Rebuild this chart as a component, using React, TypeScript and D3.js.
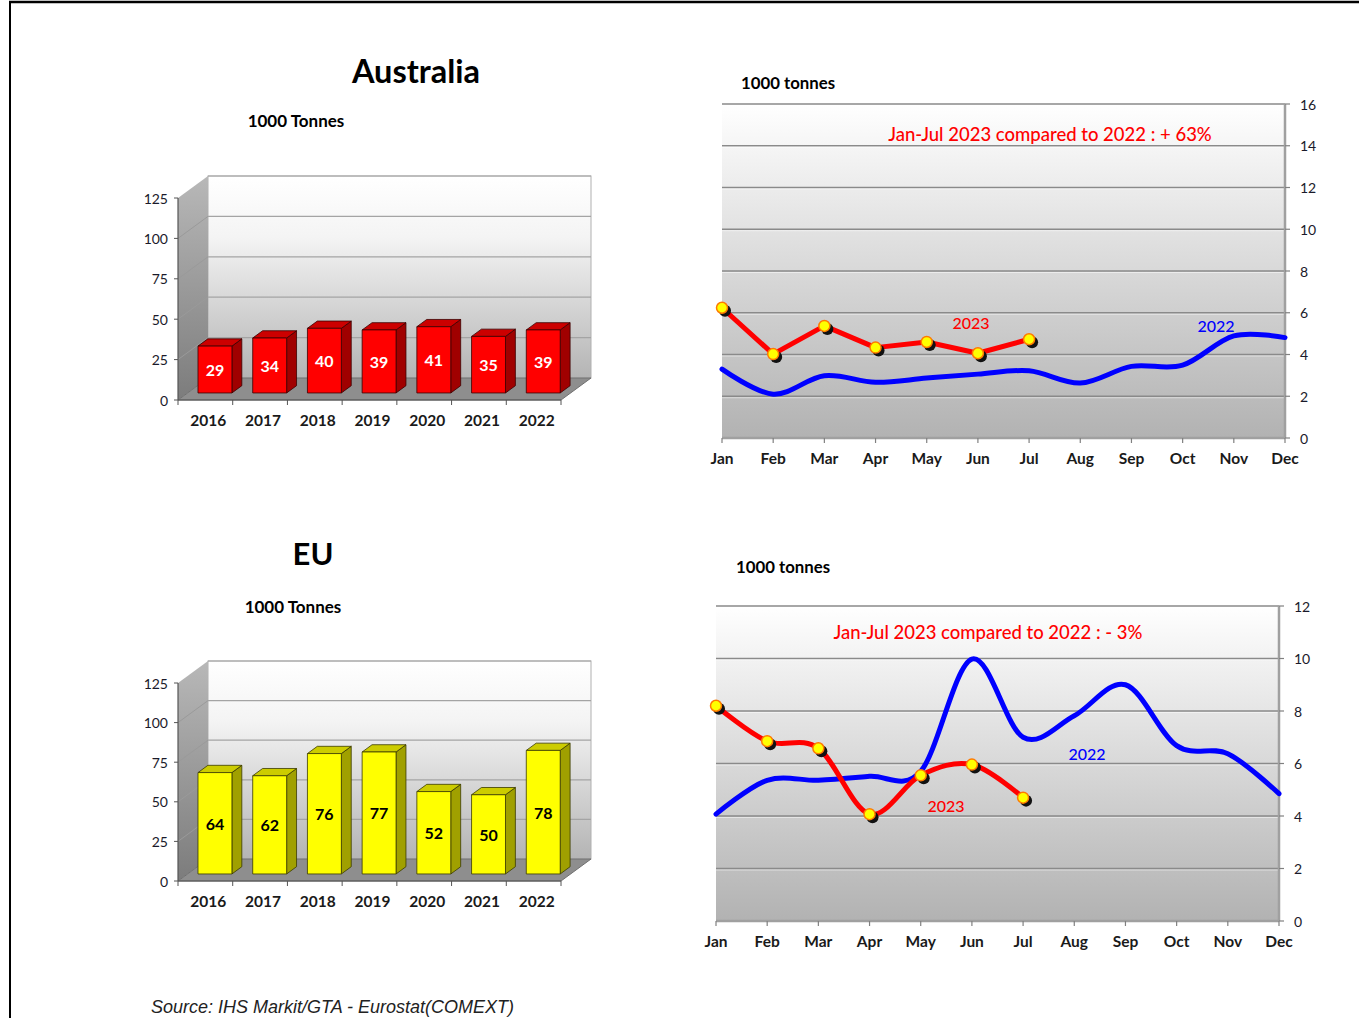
import React from 'react';
import * as d3 from 'd3';

// ---------- DATA ----------
const years = ['2016', '2017', '2018', '2019', '2020', '2021', '2022'];
const australiaAnnual = [29, 34, 40, 39, 41, 35, 39];
const euAnnual = [64, 62, 76, 77, 52, 50, 78];
const barTicks = [0, 25, 50, 75, 100, 125];

const months = ['Jan', 'Feb', 'Mar', 'Apr', 'May', 'Jun', 'Jul', 'Aug', 'Sep', 'Oct', 'Nov', 'Dec'];
const australia2022 = [3.3, 2.1, 2.98, 2.67, 2.87, 3.06, 3.22, 2.63, 3.43, 3.49, 4.89, 4.81];
const australia2023 = [6.24, 4.02, 5.37, 4.33, 4.6, 4.06, 4.73];
const eu2022 = [4.07, 5.36, 5.36, 5.51, 5.7, 9.98, 7.0, 7.82, 9.0, 6.68, 6.37, 4.85];
const eu2023 = [8.2, 6.85, 6.58, 4.07, 5.55, 5.96, 4.7];
const ausMonthlyTicks = [0, 2, 4, 6, 8, 10, 12, 14, 16];
const euMonthlyTicks = [0, 2, 4, 6, 8, 10, 12];

const FONT = 'Lato, "Open Sans", sans-serif';

type BarProps = {
  id: string;
  values: number[];
  left: number;
  right: number;
  top: number;
  bottom: number;
  front: string;
  topC: string;
  side: string;
  stroke: string;
  labelColor: string;
};

function BarChart3D({ id, values, left, right, top, bottom, front, topC, side, stroke, labelColor }: BarProps) {
  const dx = 30;
  const dy = -22;
  const y = d3.scaleLinear().domain([0, 125]).range([bottom, top]);
  const x = d3.scaleBand<string>().domain(years).range([left, right]).paddingInner(0.38).paddingOuter(0.19);
  const bw = x.bandwidth();
  const f0 = 0.32;
  const f1 = 0.65;
  const ddx = (f1 - f0) * dx;
  const ddy = (f1 - f0) * dy;
  const pts = (a: number[][]) => a.map((p) => p.join(',')).join(' ');
  return (
    <g>
      <defs>
        <linearGradient id={id + 'back'} x1="0" y1="0" x2="0" y2="1">
          <stop offset="0%" stopColor="#ffffff" />
          <stop offset="30%" stopColor="#f4f4f4" />
          <stop offset="100%" stopColor="#b4b4b4" />
        </linearGradient>
        <linearGradient id={id + 'side'} x1="0" y1="0" x2="0" y2="1">
          <stop offset="0%" stopColor="#b8b8b8" />
          <stop offset="100%" stopColor="#7c7c7c" />
        </linearGradient>
      </defs>
      {/* back wall */}
      <rect x={left + dx} y={y(125) + dy} width={right - left} height={y(0) - y(125)} fill={`url(#${id}back)`} stroke="#b0b0b0" strokeWidth={1} />
      {barTicks.slice(1).map((t) => (
        <line key={'g' + t} x1={left + dx} x2={right + dx} y1={y(t) + dy} y2={y(t) + dy} stroke="#a4a4a4" strokeWidth={1.2} />
      ))}
      {/* side wall */}
      <polygon points={pts([[left, y(125)], [left + dx, y(125) + dy], [left + dx, y(0) + dy], [left, y(0)]])} fill={`url(#${id}side)`} />
      {barTicks.slice(1, -1).map((t) => (
        <line key={'s' + t} x1={left} x2={left + dx} y1={y(t)} y2={y(t) + dy} stroke="#9a9a9a" strokeWidth={1} />
      ))}
      {/* floor */}
      <polygon points={pts([[left, y(0)], [right, y(0)], [right + dx, y(0) + dy], [left + dx, y(0) + dy]])} fill="#8e8e8e" stroke="#707070" strokeWidth={1} />
      {/* bars */}
      {values.map((v, i) => {
        const bx = (x(years[i]) as number) + f0 * dx;
        const by0 = y(0) + f0 * dy;
        const byt = y(v) + f0 * dy;
        return (
          <g key={'b' + i} stroke={stroke} strokeWidth={0.8} strokeLinejoin="round">
            <polygon points={pts([[bx + bw, byt], [bx + bw + ddx, byt + ddy], [bx + bw + ddx, by0 + ddy], [bx + bw, by0]])} fill={side} />
            <polygon points={pts([[bx, byt], [bx + bw, byt], [bx + bw + ddx, byt + ddy], [bx + ddx, byt + ddy]])} fill={topC} />
            <rect x={bx} y={byt} width={bw} height={by0 - byt} fill={front} />
            <text x={bx + bw / 2} y={(byt + by0) / 2} textAnchor="middle" dominantBaseline="central" fill={labelColor} stroke="none" fontFamily={FONT} fontWeight={700} fontSize={16}>
              {v}
            </text>
          </g>
        );
      })}
      {/* axes */}
      <line x1={left} x2={left} y1={y(125)} y2={y(0)} stroke="#555" strokeWidth={1.2} />
      <line x1={left} x2={right} y1={y(0)} y2={y(0)} stroke="#555" strokeWidth={1.2} />
      {barTicks.map((t) => (
        <g key={'yt' + t}>
          <line x1={left - 4} x2={left} y1={y(t)} y2={y(t)} stroke="#555" strokeWidth={1} />
          <text x={left - 10} y={y(t)} textAnchor="end" dominantBaseline="central" fontFamily={FONT} fontSize={14} fill="#1a1a2a">
            {t}
          </text>
        </g>
      ))}
      {d3.range(years.length + 1).map((k) => {
        const tx = left + (k * (right - left)) / years.length;
        return <line key={'xt' + k} x1={tx} x2={tx} y1={y(0)} y2={y(0) + 5} stroke="#555" strokeWidth={1} />;
      })}
      {years.map((yr) => (
        <text key={'xl' + yr} x={(x(yr) as number) + bw / 2 + 3} y={y(0) + 20} textAnchor="middle" dominantBaseline="central" fontFamily={FONT} fontWeight={700} fontSize={15.5} fill="#1a1a1a">
          {yr}
        </text>
      ))}
    </g>
  );
}

type LineProps = {
  id: string;
  x0: number;
  x1: number;
  yTop: number;
  yBottom: number;
  ticks: number[];
  s2022: number[];
  s2023: number[];
  smoothRed: boolean;
  annotation: string;
  annX: number;
  annY: number;
  l2022: [number, number];
  l2023: [number, number];
};

function LineChart({ id, x0, x1, yTop, yBottom, ticks, s2022, s2023, smoothRed, annotation, annX, annY, l2022, l2023 }: LineProps) {
  const x = d3.scalePoint<string>().domain(months).range([x0, x1]);
  const y = d3.scaleLinear().domain([0, ticks[ticks.length - 1]]).range([yBottom, yTop]);
  const smooth = d3.curveCardinal.tension(0);
  const blueLine = d3.line<number>().x((_, i) => x(months[i]) as number).y((d) => y(d)).curve(smooth);
  const redLine = d3.line<number>().x((_, i) => x(months[i]) as number).y((d) => y(d)).curve(smoothRed ? smooth : d3.curveLinear);
  return (
    <g>
      <defs>
        <linearGradient id={id + 'bg'} x1="0" y1="0" x2="0" y2="1">
          <stop offset="0%" stopColor="#ffffff" />
          <stop offset="100%" stopColor="#b2b2b2" />
        </linearGradient>
      </defs>
      <rect x={x0} y={yTop} width={x1 - x0} height={yBottom - yTop} fill={`url(#${id}bg)`} />
      {ticks.slice(1).map((t) => (
        <g key={'g' + t}>
          <line x1={x0} x2={x1} y1={y(t)} y2={y(t)} stroke="#8a8a8a" strokeWidth={1.3} />
          <line x1={x0} x2={x1} y1={y(t) + 1.5} y2={y(t) + 1.5} stroke="#ffffff" strokeOpacity={0.5} strokeWidth={1} />
        </g>
      ))}
      {/* axes */}
      <line x1={x1} x2={x1} y1={yTop} y2={yBottom} stroke="#a0a0a0" strokeWidth={2.5} />
      <line x1={x0} x2={x1} y1={yBottom} y2={yBottom} stroke="#a0a0a0" strokeWidth={2.5} />
      {ticks.map((t) => (
        <g key={'yt' + t}>
          <line x1={x1} x2={x1 + 5} y1={y(t)} y2={y(t)} stroke="#808080" strokeWidth={1.2} />
          <text x={x1 + 15} y={y(t)} dominantBaseline="central" fontFamily={FONT} fontSize={14} fill="#1a1a2a">
            {t}
          </text>
        </g>
      ))}
      {months.map((m) => (
        <g key={'m' + m}>
          <line x1={x(m) as number} x2={x(m) as number} y1={yBottom} y2={yBottom + 5} stroke="#808080" strokeWidth={1.2} />
          <text x={x(m) as number} y={yBottom + 20} textAnchor="middle" dominantBaseline="central" fontFamily={FONT} fontWeight={700} fontSize={15.5} fill="#1a1a1a">
            {m}
          </text>
        </g>
      ))}
      {/* series */}
      <path d={blueLine(s2022) as string} fill="none" stroke="#0000ff" strokeWidth={5} strokeLinejoin="round" strokeLinecap="round" />
      <path d={redLine(s2023) as string} fill="none" stroke="#ff0000" strokeWidth={5} strokeLinejoin="round" strokeLinecap="round" />
      {s2023.map((v, i) => (
        <circle key={'sh' + i} cx={(x(months[i]) as number) + 3} cy={y(v) + 3} r={6} fill="#111" />
      ))}
      {s2023.map((v, i) => (
        <circle key={'mk' + i} cx={x(months[i]) as number} cy={y(v)} r={5.5} fill="#ffff00" stroke="#ff7a00" strokeWidth={1.5} />
      ))}
      <text x={annX} y={annY} textAnchor="middle" dominantBaseline="central" fontFamily={FONT} fontWeight={500} fontSize={18.5} fill="#ff0000">
        {annotation}
      </text>
      <text x={l2022[0]} y={l2022[1]} textAnchor="middle" dominantBaseline="central" fontFamily={FONT} fontWeight={500} fontSize={16} fill="#0000ff">
        2022
      </text>
      <text x={l2023[0]} y={l2023[1]} textAnchor="middle" dominantBaseline="central" fontFamily={FONT} fontWeight={500} fontSize={16} fill="#ff0000">
        2023
      </text>
    </g>
  );
}

export default function App() {
  return (
    <svg width={1359} height={1018} style={{ position: 'absolute', left: 0, top: 0, background: '#fff' }}>
      {/* frame */}
      <line x1={9} x2={1359} y1={2} y2={2} stroke="#000" strokeWidth={2.5} />
      <line x1={10} x2={10} y1={1} y2={1018} stroke="#000" strokeWidth={2} />

      {/* Australia */}
      <text x={416} y={70} textAnchor="middle" dominantBaseline="central" fontFamily={FONT} fontWeight={700} fontSize={32.5} fill="#000">
        Australia
      </text>
      <text x={296} y={120} textAnchor="middle" dominantBaseline="central" fontFamily={FONT} fontWeight={700} fontSize={17} fill="#000">
        1000 Tonnes
      </text>
      <BarChart3D id="aus" values={australiaAnnual} left={178} right={561} top={198} bottom={400} front="#ff0000" topC="#cc0000" side="#a00000" stroke="#3a0000" labelColor="#ffffff" />

      <text x={741} y={82} dominantBaseline="central" fontFamily={FONT} fontWeight={700} fontSize={16.8} fill="#000">
        1000 tonnes
      </text>
      <LineChart
        id="ausm"
        x0={722}
        x1={1285}
        yTop={104}
        yBottom={438}
        ticks={ausMonthlyTicks}
        s2022={australia2022}
        s2023={australia2023}
        smoothRed={false}
        annotation="Jan-Jul 2023 compared to 2022 : + 63%"
        annX={1050}
        annY={134}
        l2022={[1216, 325]}
        l2023={[971, 322]}
      />

      {/* EU */}
      <text x={313} y={553} textAnchor="middle" dominantBaseline="central" fontFamily={FONT} fontWeight={700} fontSize={31} fill="#000">
        EU
      </text>
      <text x={293} y={606} textAnchor="middle" dominantBaseline="central" fontFamily={FONT} fontWeight={700} fontSize={17} fill="#000">
        1000 Tonnes
      </text>
      <BarChart3D id="eu" values={euAnnual} left={178} right={561} top={683} bottom={881} front="#ffff00" topC="#cccc00" side="#a0a000" stroke="#3a3a00" labelColor="#000000" />

      <text x={736} y={566} dominantBaseline="central" fontFamily={FONT} fontWeight={700} fontSize={16.8} fill="#000">
        1000 tonnes
      </text>
      <LineChart
        id="eum"
        x0={716}
        x1={1279}
        yTop={606}
        yBottom={921}
        ticks={euMonthlyTicks}
        s2022={eu2022}
        s2023={eu2023}
        smoothRed={true}
        annotation="Jan-Jul 2023 compared to 2022 : - 3%"
        annX={988}
        annY={632}
        l2022={[1087, 753]}
        l2023={[946, 805]}
      />

      <text x={151} y={1007} dominantBaseline="central" fontFamily='"Liberation Sans", Arial, sans-serif' fontStyle="italic" fontSize={18} fill="#222">
        Source: IHS Markit/GTA - Eurostat(COMEXT)
      </text>
    </svg>
  );
}
